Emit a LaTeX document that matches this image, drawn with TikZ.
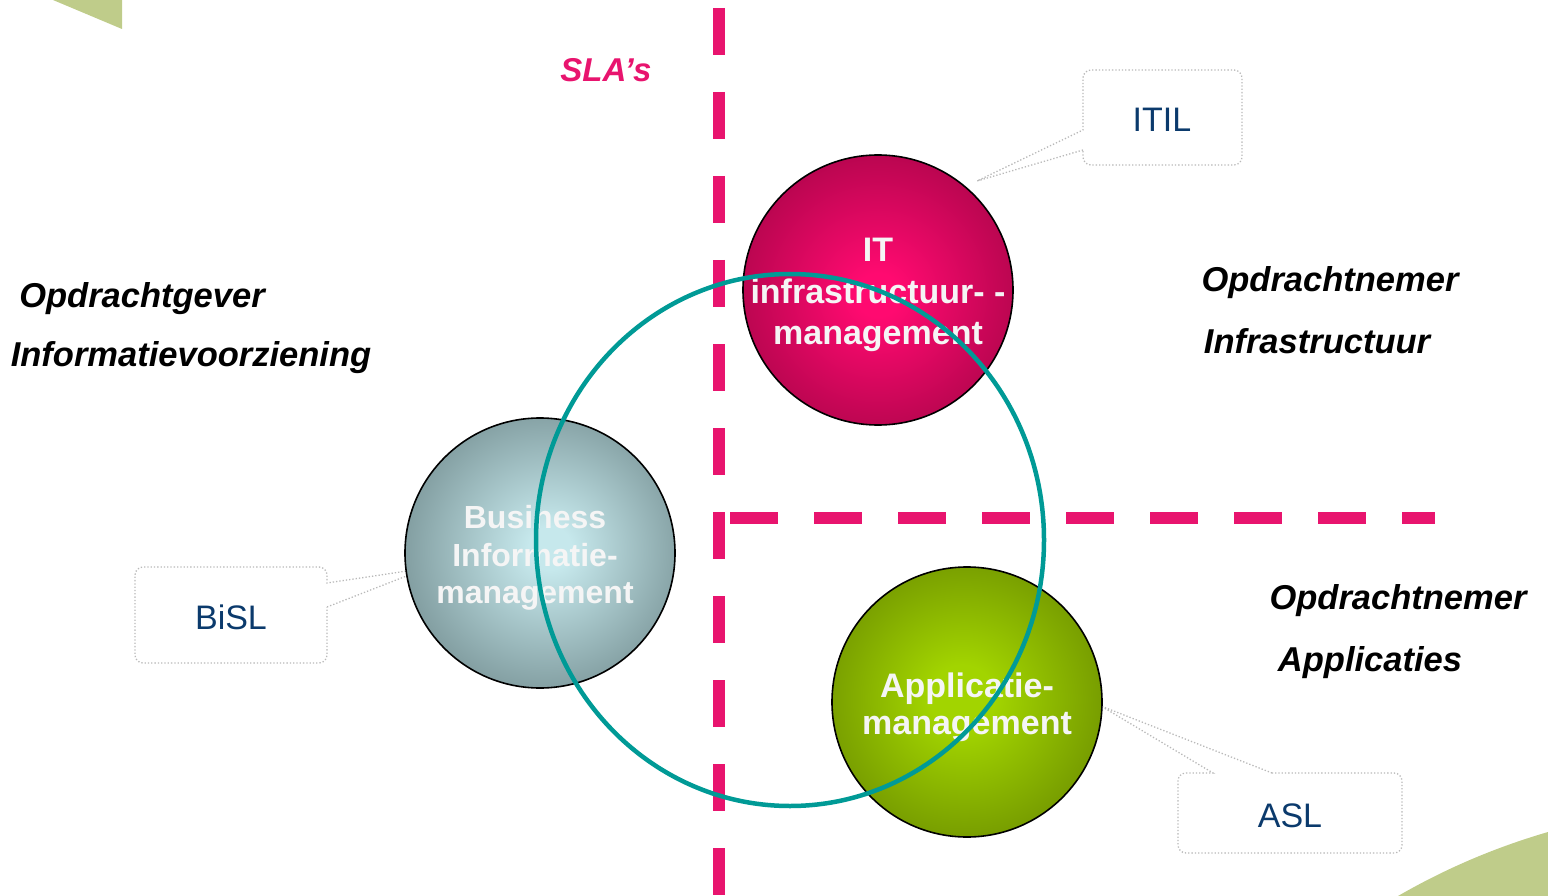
\documentclass[tikz,border=0pt]{standalone}
\usepackage{fontspec}
\setmainfont{Liberation Sans}
\definecolor{slapink}{HTML}{E8146E}
\definecolor{ringteal}{HTML}{009A96}
\definecolor{itlight}{HTML}{FF0A70}
\definecolor{itdark}{HTML}{6C002C}
\definecolor{bilight}{HTML}{C6E8EC}
\definecolor{bidark}{HTML}{3A4F51}
\definecolor{aplight}{HTML}{A2D400}
\definecolor{apdark}{HTML}{435A00}
\definecolor{cornergreen}{HTML}{BFCC8A}
\definecolor{labelblue}{HTML}{0B3A6C}
\pgfdeclareradialshading{itball}{\pgfpoint{0bp}{-1bp}}{color(0bp)=(itlight); color(4bp)=(itlight); color(50bp)=(itdark)}
\pgfdeclareradialshading{biball}{\pgfpoint{2bp}{1bp}}{color(0bp)=(bilight); color(4bp)=(bilight); color(50bp)=(bidark)}
\pgfdeclareradialshading{apball}{\pgfpoint{-1bp}{1bp}}{color(0bp)=(aplight); color(6bp)=(aplight); color(50bp)=(apdark)}
\newcommand{\lblfont}   {\fontsize{34.5}{40}\selectfont\bfseries\itshape}

\begin{document}
\begin{tikzpicture}[x=1pt,y=-1pt,
     ball/.style={circle,draw=black,line width=1.6pt,minimum size=270pt,inner sep=0pt},
     balltext/.style={text=white!96!black,align=center},
     side/.style={anchor=base,font=\lblfont},
     sladash/.style={slapink,line width=12pt,dash pattern=on 47pt off 37pt},
     callout/.style={draw=gray!55,dotted,line width=1.3pt},
     method/.style={text=labelblue,font=\fontsize{34}{40}\selectfont}]
     \useasboundingbox (0,0) rectangle (1548,896);
     \fill[cornergreen] (53,0) -- (122,0) -- (122,29) -- cycle;
     \fill[cornergreen] (1398,896) .. controls (1450,866) and (1500,846) .. (1548,832) -- (1548,896) -- cycle;
     \draw[sladash] (719,8) -- (719,896);
     \draw[sladash,dash pattern=on 48pt off 36pt] (730,518) -- (1435,518);
     \draw[callout] (1083,150) -- (977,181) -- (1083,130) [rounded corners=8pt] -- (1083,70) -- (1242,70) -- (1242,165) -- (1083,165) [sharp corners] -- (1083,150);
     \draw[callout] (327,607) -- (427,568) -- (327,583) [rounded corners=8pt] -- (327,567) -- (135,567) -- (135,663) -- (327,663) [sharp corners] -- (327,607);
     \draw[callout] (1272,773) -- (1101,706) -- (1213,773) [rounded corners=8pt] -- (1178,773) -- (1178,853) -- (1402,853) -- (1402,773) [sharp corners] -- (1272,773);
     \node[method] (itil) at (1162,120) {ITIL};
     \node[method] (bisl) at (231,617) {BiSL};
     \node[method] (asl)  at (1290,816) {ASL};
     \node[ball,shading=itball] (itm) at (878,290) {};
     \node[ball,shading=biball] (bim) at (540,553) {};
     \node[ball,shading=apball] (apm) at (967,702) {};
     \node[balltext,font=\fontsize{34}{41.5}\selectfont\bfseries] (itmtxt) at ([yshift=-5pt]itm.center) {IT\\infrastructuur- -\\management};
     \node[balltext,font=\fontsize{32}{37.5}\selectfont\bfseries] (bimtxt) at ([xshift=-5pt,yshift=-5pt]bim.center) {Business\\Informatie-\\management};
     \node[balltext,font=\fontsize{34}{37}\selectfont\bfseries] (apmtxt) at ([yshift=-5pt]apm.center) {Applicatie-\\management};
     \draw[ringteal,line width=4.5pt] (790,540) ellipse (254 and 266);
     \node[side,text=slapink,font=\fontsize{33}{40}\selectfont\bfseries\itshape] (sla) at (606,82) {SLA’s};
     \node[side] (gever) at (142,307) {Opdrachtgever};
     \node[side] (iv)    at (191,366) {Informatievoorziening};
     \node[side] (nemi)  at (1330,291) {Opdrachtnemer};
     \node[side] (infra) at (1317,353) {Infrastructuur};
     \node[side] (nema)  at (1398,609) {Opdrachtnemer};
     \node[side] (appl)  at (1370,671) {Applicaties};
\end{tikzpicture}
\end{document}
